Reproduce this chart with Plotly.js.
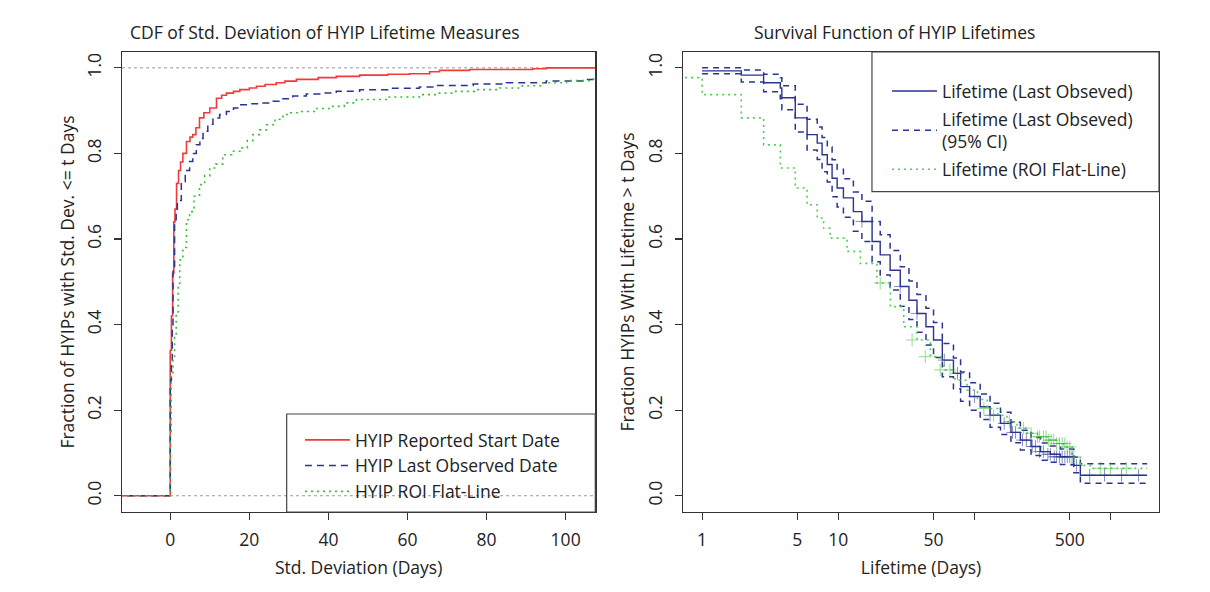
<!DOCTYPE html>
<html><head><meta charset="utf-8">
<script src="https://cdn.plot.ly/plotly-3.0.1.min.js"></script>
<style>html,body{margin:0;padding:0;background:#fff}</style>
</head><body><div id="chart" style="width:1210px;height:592px"></div>
<script>
// ---------- Left panel: CDF of std. deviation ----------
const startX = [-20, 0, 0.3, 0.6, 0.9, 1.2, 1.6, 2.1, 2.6, 3.2, 4.1, 5.0, 5.7, 6.5, 7.4, 8.5, 10, 11.7, 13, 14.2, 16, 17.6, 20, 21.8, 24, 26.8, 29, 31.9, 37.4, 42, 47.9, 55, 60.5, 65.6, 68.1, 75.7, 91.7, 95.1, 120];
const startY = [0, 0.34, 0.42, 0.52, 0.64, 0.67, 0.73, 0.76, 0.78, 0.80, 0.828, 0.838, 0.844, 0.86, 0.883, 0.895, 0.906, 0.929, 0.936, 0.941, 0.945, 0.949, 0.953, 0.957, 0.961, 0.965, 0.969, 0.973, 0.977, 0.980, 0.983, 0.985, 0.986, 0.991, 0.994, 0.996, 0.998, 1.0, 1.0];

const lastObsX = [-20, 0, 0.1, 0.3, 0.5, 0.7, 1.1, 1.5, 1.8, 2.8, 3.8, 4.9, 5.7, 6.6, 7.5, 8.3, 9.5, 10.8, 12.5, 14.2, 16, 17.6, 20, 22.6, 26, 28.5, 31, 34.4, 37.8, 42, 47.9, 55, 63, 66.4, 76.6, 85, 95.1, 105.2, 120];
const lastObsY = [0, 0.25, 0.27, 0.317, 0.395, 0.536, 0.645, 0.664, 0.69, 0.734, 0.76, 0.781, 0.80, 0.82, 0.835, 0.852, 0.868, 0.883, 0.891, 0.898, 0.906, 0.914, 0.916, 0.918, 0.922, 0.928, 0.934, 0.939, 0.941, 0.945, 0.949, 0.952, 0.955, 0.959, 0.962, 0.965, 0.969, 0.973, 0.973];

const flatX = [-20, 0, 0.25, 0.7, 1.1, 1.5, 2.0, 2.4, 3.2, 4.1, 4.9, 6.0, 7.4, 8.7, 10, 11.5, 13.3, 15.5, 17.6, 19.5, 20.9, 22.6, 24.3, 26.5, 28.5, 30.5, 32.7, 36.6, 41.1, 44, 47.1, 55, 63, 67, 71.5, 77, 83.3, 89, 94.3, 100.2, 106, 120];
const flatY = [0, 0.146, 0.28, 0.317, 0.37, 0.426, 0.49, 0.551, 0.58, 0.645, 0.664, 0.70, 0.727, 0.748, 0.766, 0.775, 0.797, 0.805, 0.813, 0.83, 0.844, 0.855, 0.867, 0.88, 0.891, 0.895, 0.898, 0.905, 0.910, 0.918, 0.926, 0.932, 0.9375, 0.941, 0.945, 0.949, 0.953, 0.958, 0.965, 0.970, 0.974, 0.974];

const leftXTicks = [0, 20, 40, 60, 80, 100];
const yTicks = [0, 0.2, 0.4, 0.6, 0.8, 1.0];
const yTickText = ['0.0', '0.2', '0.4', '0.6', '0.8', '1.0'];

// ---------- Right panel: survival function ----------
const kmX = [1, 1.94, 2.83, 3.75, 3.85, 4.83, 5.9, 7.0, 7.6, 8.3, 9.0, 9.8, 10.9, 12.9, 14.9, 17.7, 20.3, 24, 28.5, 33, 37.8, 44, 50, 58, 70, 79, 92, 110, 130, 155, 185, 217, 260, 305, 360, 427, 535, 598, 1850];
const kmY = [0.993, 0.983, 0.965, 0.953, 0.930, 0.883, 0.844, 0.824, 0.797, 0.774, 0.742, 0.719, 0.696, 0.664, 0.641, 0.594, 0.563, 0.527, 0.489, 0.457, 0.426, 0.395, 0.364, 0.317, 0.286, 0.255, 0.232, 0.208, 0.188, 0.169, 0.148, 0.130, 0.115, 0.103, 0.097, 0.091, 0.071, 0.048, 0.048];
const kmUpper = [1.0, 0.995, 0.985, 0.977, 0.958, 0.915, 0.88, 0.862, 0.837, 0.815, 0.785, 0.763, 0.741, 0.71, 0.688, 0.641, 0.61, 0.573, 0.535, 0.502, 0.47, 0.438, 0.405, 0.356, 0.322, 0.289, 0.264, 0.238, 0.216, 0.195, 0.172, 0.153, 0.136, 0.123, 0.116, 0.109, 0.09, 0.075, 0.075];
const kmLower = [0.986, 0.967, 0.944, 0.928, 0.902, 0.85, 0.808, 0.786, 0.757, 0.733, 0.699, 0.675, 0.651, 0.618, 0.594, 0.547, 0.516, 0.481, 0.443, 0.412, 0.382, 0.352, 0.323, 0.278, 0.25, 0.221, 0.2, 0.178, 0.16, 0.143, 0.124, 0.107, 0.094, 0.083, 0.078, 0.073, 0.054, 0.029, 0.029];

const roiX = [0.5, 1, 1.94, 2.83, 3.75, 4.83, 5.9, 7.0, 7.8, 8.7, 11.6, 14.5, 19.2, 24.1, 30.2, 37.8, 47.4, 59.3, 72, 88, 105, 124, 148, 173, 205, 243, 290, 341, 395, 451, 520, 598, 708, 1850];
const roiY = [0.977, 0.9375, 0.883, 0.82, 0.766, 0.719, 0.680, 0.649, 0.625, 0.602, 0.571, 0.543, 0.497, 0.442, 0.395, 0.364, 0.325, 0.294, 0.27, 0.247, 0.225, 0.204, 0.188, 0.173, 0.158, 0.146, 0.138, 0.130, 0.122, 0.114, 0.09, 0.071, 0.064, 0.064];

const kmCensX = [14.9, 28.5, 37.8, 60, 75, 100, 130, 165, 190, 200, 225, 240, 265, 280, 300, 320, 345, 360, 385, 400, 420, 440, 460, 480, 500, 520, 560, 700, 900, 1200, 1600];
const kmCensY = [0.641, 0.489, 0.426, 0.317, 0.286, 0.232, 0.188, 0.169, 0.148, 0.148, 0.130, 0.130, 0.115, 0.115, 0.103, 0.103, 0.097, 0.097, 0.091, 0.091, 0.091, 0.091, 0.091, 0.091, 0.091, 0.091, 0.071, 0.048, 0.048, 0.048, 0.048];
const roiCensX = [20.3, 34.8, 43.5, 56, 66, 117, 138, 180, 229, 260, 290, 300, 321, 335, 350, 365, 381, 400, 420, 440, 460, 478, 500, 535, 839, 993, 1300];
const roiCensY = [0.497, 0.364, 0.325, 0.294, 0.294, 0.204, 0.188, 0.173, 0.158, 0.146, 0.138, 0.138, 0.138, 0.138, 0.130, 0.130, 0.130, 0.122, 0.122, 0.122, 0.122, 0.114, 0.114, 0.09, 0.064, 0.064, 0.064];

const rightXTicks = [1, 5, 10, 50, 100, 500, 1000];
const rightXTickText = ['1', '5', '10', '50', '', '500', ''];

const RED = '#f23a3a', NAVY = '#2a3590', GREEN = '#39bf39', LGREEN = '#52cf52';
const FONT = 'Open Sans, Noto Sans, sans-serif';
const FS = 17.5;

const traces = [
  {x: startX, y: startY, xaxis: 'x', yaxis: 'y', mode: 'lines', line: {shape: 'hv', color: RED, width: 1.6},
   name: 'HYIP Reported Start Date', legend: 'legend', legendgroup: 'a'},
  {x: lastObsX, y: lastObsY, xaxis: 'x', yaxis: 'y', mode: 'lines', line: {shape: 'hv', color: NAVY, width: 1.5, dash: '7px,5px'},
   name: 'HYIP Last Observed Date', legend: 'legend', legendgroup: 'b'},
  {x: flatX, y: flatY, xaxis: 'x', yaxis: 'y', mode: 'lines', line: {shape: 'hv', color: GREEN, width: 1.6, dash: '2px,4px'},
   name: 'HYIP ROI Flat-Line', legend: 'legend', legendgroup: 'c'},

  {x: kmX, y: kmY, xaxis: 'x2', yaxis: 'y2', mode: 'lines', line: {shape: 'hv', color: NAVY, width: 1.4},
   name: 'Lifetime (Last Obseved)', legend: 'legend2', legendgroup: 'd'},
  {x: kmX, y: kmUpper, xaxis: 'x2', yaxis: 'y2', mode: 'lines', line: {shape: 'hv', color: NAVY, width: 1.5, dash: '6px,5px'},
   name: 'Lifetime (Last Obseved)<br>(95% CI)', legend: 'legend2', legendgroup: 'e'},
  {x: kmX, y: kmLower, xaxis: 'x2', yaxis: 'y2', mode: 'lines', line: {shape: 'hv', color: NAVY, width: 1.5, dash: '6px,5px'},
   showlegend: false, legendgroup: 'e'},
  {x: roiX, y: roiY, xaxis: 'x2', yaxis: 'y2', mode: 'lines', line: {shape: 'hv', color: LGREEN, width: 1.6, dash: '2px,4px'},
   name: 'Lifetime (ROI Flat-Line)', legend: 'legend2', legendgroup: 'f'},
  {x: kmCensX, y: kmCensY, xaxis: 'x2', yaxis: 'y2', mode: 'markers', showlegend: false, hoverinfo: 'skip',
   marker: {symbol: 'cross-thin', size: 9, opacity: 0.55, line: {color: NAVY, width: 1}}},
  {x: roiCensX, y: roiCensY, xaxis: 'x2', yaxis: 'y2', mode: 'markers', showlegend: false, hoverinfo: 'skip',
   marker: {symbol: 'cross-thin', size: 9, opacity: 0.55, line: {color: GREEN, width: 1}}}
];

const axisBase = {
  showline: true, mirror: true, linecolor: '#333', linewidth: 1.3,
  ticks: 'outside', ticklen: 7, tickcolor: '#333', tickwidth: 1.1,
  showgrid: false, zeroline: false, automargin: false,
  tickfont: {family: FONT, size: FS, color: '#222'}
};
const titleFont = {family: FONT, size: FS, color: '#222'};

const layout = {
  width: 1210, height: 592,
  margin: {l: 122, r: 51, t: 52, b: 80},
  paper_bgcolor: '#fff', plot_bgcolor: '#fff',
  font: {family: FONT, size: FS, color: '#222'},
  xaxis: Object.assign({}, axisBase, {domain: [0, 0.4564], range: [-12.2, 107.5], anchor: 'y',
    tickvals: leftXTicks, ticklabelstandoff: 5,
    title: {text: 'Std. Deviation (Days)', standoff: 11, font: titleFont}}),
  yaxis: Object.assign({}, axisBase, {domain: [0, 1], range: [-0.038, 1.037], anchor: 'x',
    tickvals: yTicks, ticktext: yTickText, tickangle: -90, ticklabelstandoff: 6,
    title: {text: 'Fraction of HYIPs with Std. Dev. <= t Days', standoff: 2, font: titleFont}}),
  xaxis2: Object.assign({}, axisBase, {domain: [0.541, 1], type: 'log', range: [-0.14, 3.354], anchor: 'y2',
    tickvals: rightXTicks, ticktext: rightXTickText, ticklabelstandoff: 5,
    title: {text: 'Lifetime (Days)', standoff: 11, font: titleFont}}),
  yaxis2: Object.assign({}, axisBase, {domain: [0, 1], range: [-0.038, 1.037], anchor: 'x2',
    tickvals: yTicks, ticktext: yTickText, tickangle: -90, ticklabelstandoff: 6,
    title: {text: 'Fraction HYIPs With Lifetime > t Days', standoff: 3, font: titleFont}}),
  legend: {x: 0.1716, y: 0.1957, xanchor: 'left', yanchor: 'top', bgcolor: 'rgba(0,0,0,0)', borderwidth: 0,
    itemwidth: 45, tracegroupgap: 0, traceorder: 'grouped', font: {family: FONT, size: FS, color: '#222'}},
  legend2: {x: 0.7377, y: 0.954, xanchor: 'left', yanchor: 'top', bgcolor: 'rgba(0,0,0,0)', borderwidth: 0,
    itemwidth: 45, tracegroupgap: 2, traceorder: 'grouped', font: {family: FONT, size: FS, color: '#222'}},
  shapes: [
    {type: 'line', xref: 'x domain', yref: 'y', x0: 0, x1: 1, y0: 0, y1: 0, line: {color: '#999', width: 1, dash: '3px,3px'}, layer: 'below'},
    {type: 'line', xref: 'x domain', yref: 'y', x0: 0, x1: 1, y0: 1, y1: 1, line: {color: '#999', width: 1, dash: '3px,3px'}, layer: 'below'},
    {type: 'rect', xref: 'paper', yref: 'paper', x0: 0.1588, x1: 0.4564, y0: 0, y1: 0.2130, line: {color: '#444', width: 1.2}},
    {type: 'rect', xref: 'paper', yref: 'paper', x0: 0.7232, x1: 1, y0: 0.6963, y1: 1, line: {color: '#444', width: 1.2}}
  ],
  annotations: [
    {text: 'CDF of Std. Deviation of HYIP Lifetime Measures', xref: 'paper', yref: 'paper', x: 0.1962, y: 1.0435,
     xanchor: 'center', yanchor: 'middle', showarrow: false, font: titleFont},
    {text: 'Survival Function of HYIP Lifetimes', xref: 'paper', yref: 'paper', x: 0.7445, y: 1.0435,
     xanchor: 'center', yanchor: 'middle', showarrow: false, font: titleFont}
  ]
};

Plotly.newPlot('chart', traces, layout, {displayModeBar: false, staticPlot: true});
</script>
</body></html>
